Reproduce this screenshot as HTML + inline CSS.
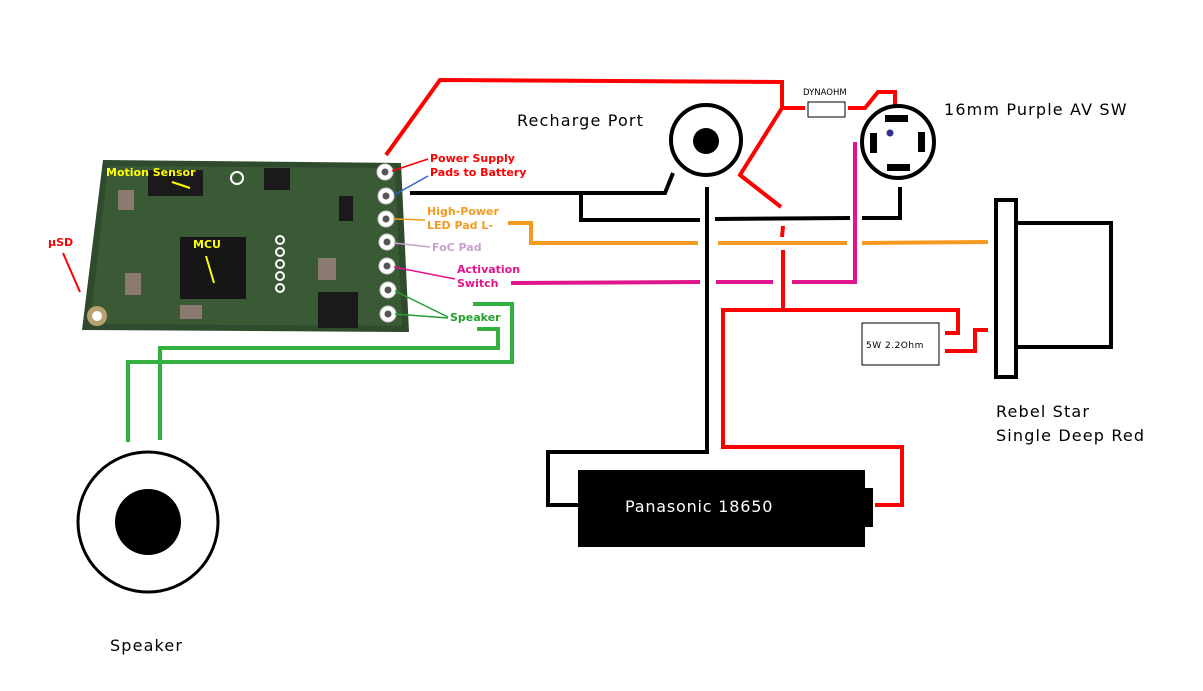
<!DOCTYPE html>
<html><head><meta charset="utf-8"><style>
body{margin:0;background:#fff;width:1203px;height:691px;overflow:hidden}
svg{display:block}
text{font-family:"DejaVu Sans","Liberation Sans",sans-serif}
.big{letter-spacing:1.15px}
</style></head><body>
<svg width="1203" height="691" viewBox="0 0 1203 691" xmlns="http://www.w3.org/2000/svg">
<!-- PCB -->
<polygon points="103,160 401,163 409,332 82,330" fill="#2f4a2c"/>
<polygon points="108,166 395,168 402,326 90,324" fill="#3a5a36"/>
<rect x="148" y="170" width="55" height="26" fill="#1a1a1a"/>
<rect x="180" y="237" width="66" height="62" fill="#161616"/>
<rect x="318" y="292" width="40" height="36" fill="#1a1a1a"/>
<rect x="264" y="168" width="26" height="22" fill="#1a1a1a"/>
<rect x="339" y="196" width="14" height="25" fill="#1a1a1a"/>
<rect x="118" y="190" width="16" height="20" fill="#8a7a70"/>
<rect x="125" y="273" width="16" height="22" fill="#8a7a70"/>
<rect x="180" y="305" width="22" height="14" fill="#8a7a70"/>
<rect x="318" y="258" width="18" height="22" fill="#8a7a70"/>
<circle cx="237" cy="178" r="6" fill="none" stroke="#fff" stroke-width="2"/>
<circle cx="97" cy="316" r="10" fill="#b8a070"/>
<circle cx="97" cy="316" r="5" fill="#fff"/>
<g fill="#fff" stroke="#ccc" stroke-width="1">
<circle cx="385" cy="172" r="8"/><circle cx="386" cy="196" r="8"/><circle cx="386" cy="219" r="8"/>
<circle cx="387" cy="242" r="8"/><circle cx="387" cy="266" r="8"/><circle cx="388" cy="290" r="8"/><circle cx="388" cy="314" r="8"/>
</g>
<g fill="#555"><circle cx="385" cy="172" r="3.5"/><circle cx="386" cy="196" r="3.5"/><circle cx="386" cy="219" r="3.5"/><circle cx="387" cy="242" r="3.5"/><circle cx="387" cy="266" r="3.5"/><circle cx="388" cy="290" r="3.5"/><circle cx="388" cy="314" r="3.5"/></g>
<g fill="none" stroke="#fff" stroke-width="2"><circle cx="280" cy="240" r="4"/><circle cx="280" cy="252" r="4"/><circle cx="280" cy="264" r="4"/><circle cx="280" cy="276" r="4"/><circle cx="280" cy="288" r="4"/></g>
<text x="106" y="176" font-size="11" font-weight="bold" fill="#ffff00">Motion Sensor</text>
<line x1="172" y1="182" x2="190" y2="188" stroke="#ffff00" stroke-width="2"/>
<text x="193" y="248" font-size="11" font-weight="bold" fill="#ffff00">MCU</text>
<line x1="206" y1="256" x2="214" y2="283" stroke="#ffff00" stroke-width="2"/>
<text x="48" y="246" font-size="11" font-weight="bold" fill="#ff0000">μSD</text>
<line x1="63" y1="253" x2="80" y2="292" stroke="#ff0000" stroke-width="2"/>
<!-- pad labels -->
<g font-size="11" font-weight="bold">
<text x="430" y="162" fill="#ff0000">Power Supply</text>
<text x="430" y="176" fill="#ff0000">Pads to Battery</text>
<text x="427" y="215" fill="#f59a20">High-Power</text>
<text x="427" y="229" fill="#f59a20">LED Pad L-</text>
<text x="432" y="251" fill="#c8a0d0">FoC Pad</text>
<text x="457" y="273" fill="#e0148c">Activation</text>
<text x="457" y="287" fill="#e0148c">Switch</text>
<text x="450" y="321" fill="#22a030">Speaker</text>
</g>
<g stroke-width="1.5" fill="none">
<line x1="428" y1="159" x2="392" y2="171" stroke="#ff0000"/>
<line x1="428" y1="176" x2="394" y2="195" stroke="#3060d0"/>
<line x1="425" y1="220" x2="393" y2="219" stroke="#f59a20"/>
<line x1="430" y1="247" x2="394" y2="243" stroke="#c8a0d0"/>
<line x1="455" y1="279" x2="394" y2="267" stroke="#e0148c"/>
<line x1="448" y1="317" x2="395" y2="291" stroke="#22a030"/>
<line x1="448" y1="318" x2="395" y2="314" stroke="#22a030"/>
</g>
<!-- wires -->
<g fill="none" stroke-width="4" stroke-linejoin="miter">
<polyline points="386,155 440,80 782,82 782,108 805,108" stroke="#ff0000"/>
<polyline points="782,108 740,175 781,207" stroke="#ff0000"/>
<line x1="783" y1="226" x2="782" y2="237" stroke="#ff0000"/>
<polyline points="783,250 783,310 723,310 723,447 902,447 902,505 875,505" stroke="#ff0000"/>
<polyline points="783,310 958,310 958,333 945,333" stroke="#ff0000"/>
<polyline points="848,108 865,108 878,92 895,92 895,108" stroke="#ff0000"/>
<polyline points="945,351 975,351 975,330 988,330" stroke="#ff0000"/>
<polyline points="410,193 665,193 673,173" stroke="#000"/>
<polyline points="581,193 581,220 700,220" stroke="#000"/>
<line x1="715" y1="219" x2="850" y2="218" stroke="#000"/>
<polyline points="862,218 900,218 900,187" stroke="#000"/>
<polyline points="707,187 707,452 548,452 548,505 578,505" stroke="#000"/>
<polyline points="508,223 531,223 531,243 698,243" stroke="#f59a20"/>
<line x1="718" y1="243" x2="847" y2="243" stroke="#f59a20"/>
<line x1="862" y1="243" x2="988" y2="242" stroke="#f59a20"/>
<line x1="511" y1="283" x2="700" y2="282" stroke="#e0148c"/>
<line x1="716" y1="282" x2="773" y2="282" stroke="#e0148c"/>
<polyline points="792,282 855,282 855,142" stroke="#e0148c"/>
<polyline points="473,304 512,304 512,362 128,362 128,442" stroke="#33b040"/>
<polyline points="477,329 498,329 498,348 160,348 160,440" stroke="#33b040"/>
</g>
<!-- dynaohm -->
<rect x="808" y="102" width="37" height="15" fill="#fff" stroke="#000" stroke-width="1"/>
<text x="803" y="95" font-size="8.5" fill="#000">DYNAOHM</text>
<!-- recharge port -->
<circle cx="706" cy="140" r="35" fill="#fff" stroke="#000" stroke-width="4"/>
<circle cx="706" cy="141" r="13" fill="#000"/>
<text class="big" x="517" y="126" font-size="16" fill="#000">Recharge Port</text>
<!-- switch -->
<circle cx="898" cy="142" r="36" fill="#fff" stroke="#000" stroke-width="4"/>
<rect x="885" y="115" width="23" height="7" fill="#000"/>
<rect x="887" y="164" width="23" height="7" fill="#000"/>
<rect x="870" y="133" width="7" height="20" fill="#000"/>
<rect x="918" y="132" width="7" height="20" fill="#000"/>
<circle cx="890" cy="133" r="3.5" fill="#303090"/>
<text class="big" x="944" y="115" font-size="16" fill="#000">16mm Purple AV SW</text>
<!-- LED -->
<rect x="996" y="200" width="20" height="177" fill="#fff" stroke="#000" stroke-width="4"/>
<rect x="1016" y="223" width="95" height="124" fill="#fff" stroke="#000" stroke-width="4"/>
<text class="big" x="996" y="417" font-size="16" fill="#000">Rebel Star</text>
<text class="big" x="996" y="441" font-size="16" fill="#000">Single Deep Red</text>
<!-- resistor -->
<rect x="862" y="323" width="77" height="42" fill="#fff" stroke="#000" stroke-width="1"/>
<text x="866" y="348" font-size="9" fill="#000" letter-spacing="0.5">5W 2.2Ohm</text>
<!-- battery -->
<rect x="578" y="470" width="287" height="77" fill="#000"/>
<rect x="863" y="488" width="10" height="39" fill="#000"/>
<text x="625" y="512" font-size="16" fill="#fff" letter-spacing="0.8">Panasonic 18650</text>
<!-- speaker -->
<circle cx="148" cy="522" r="70" fill="#fff" stroke="#000" stroke-width="3"/>
<circle cx="148" cy="522" r="33" fill="#000"/>
<text class="big" x="110" y="651" font-size="16" fill="#000">Speaker</text>
</svg>
</body></html>
